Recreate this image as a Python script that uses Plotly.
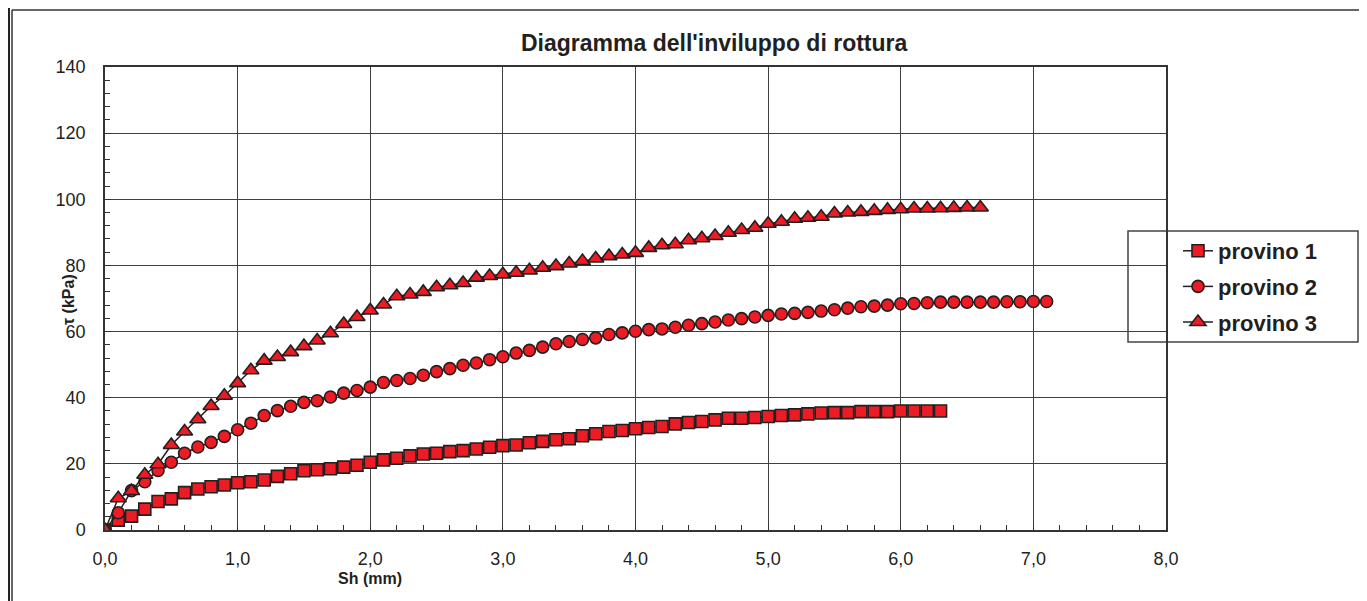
import plotly.graph_objects as go

# ---------------- data ----------------
sh_mm = [0.0, 0.1, 0.2, 0.3, 0.4, 0.5, 0.6, 0.7, 0.8, 0.9,
         1.0, 1.1, 1.2, 1.3, 1.4, 1.5, 1.6, 1.7, 1.8, 1.9,
         2.0, 2.1, 2.2, 2.3, 2.4, 2.5, 2.6, 2.7, 2.8, 2.9,
         3.0, 3.1, 3.2, 3.3, 3.4, 3.5, 3.6, 3.7, 3.8, 3.9,
         4.0, 4.1, 4.2, 4.3, 4.4, 4.5, 4.6, 4.7, 4.8, 4.9,
         5.0, 5.1, 5.2, 5.3, 5.4, 5.5, 5.6, 5.7, 5.8, 5.9,
         6.0, 6.1, 6.2, 6.3, 6.4, 6.5, 6.6, 6.7, 6.8, 6.9,
         7.0, 7.1]

tau_provino_1 = [0.0, 3.0, 4.2, 6.3, 8.6, 9.4, 11.3, 12.4, 13.1, 13.6,
                 14.3, 14.6, 15.1, 16.2, 17.0, 17.9, 18.2, 18.5, 19.0, 19.6,
                 20.5, 21.2, 21.7, 22.4, 23.0, 23.2, 23.7, 24.0, 24.5, 25.0,
                 25.5, 25.7, 26.4, 26.8, 27.3, 27.6, 28.5, 29.1, 29.8, 30.1,
                 30.6, 31.0, 31.3, 32.1, 32.5, 32.8, 33.3, 33.8, 33.8, 34.0,
                 34.3, 34.6, 34.8, 35.1, 35.4, 35.5, 35.5, 35.8, 35.8, 35.8,
                 36.0, 36.0, 36.0, 36.0]

tau_provino_2 = [0.0, 5.2, 11.9, 14.6, 18.0, 20.5, 23.2, 25.1, 26.5, 28.3,
                 30.3, 32.3, 34.6, 36.1, 37.4, 38.6, 39.1, 40.2, 41.4, 42.2,
                 43.2, 44.6, 45.2, 45.8, 46.8, 47.9, 48.8, 49.8, 50.5, 51.5,
                 52.4, 53.5, 54.3, 55.3, 56.3, 57.0, 57.6, 58.1, 59.1, 59.6,
                 60.1, 60.6, 60.8, 61.3, 61.9, 62.4, 62.9, 63.5, 63.9, 64.4,
                 64.9, 65.3, 65.5, 65.8, 66.2, 66.6, 67.1, 67.5, 67.7, 68.0,
                 68.4, 68.5, 68.7, 68.9, 68.9, 68.9, 68.9, 68.9, 69.0, 69.0,
                 69.1, 69.1]

tau_provino_3 = [0.0, 9.6, 11.8, 16.7, 19.9, 25.7, 29.8, 33.5, 37.5, 40.6,
                 44.4, 48.3, 51.2, 52.3, 53.8, 55.6, 57.3, 59.5, 62.3, 64.4,
                 66.4, 68.2, 70.7, 71.2, 72.0, 73.4, 74.0, 74.7, 76.3, 76.8,
                 77.3, 77.8, 78.5, 79.3, 79.8, 80.6, 81.3, 82.1, 82.8, 83.3,
                 83.8, 85.3, 86.1, 86.4, 87.6, 88.2, 88.9, 89.9, 90.7, 91.4,
                 92.6, 93.2, 94.1, 94.4, 94.7, 95.7, 96.0, 96.2, 96.5, 96.8,
                 97.0, 97.2, 97.2, 97.3, 97.4, 97.5, 97.5]

series_names = ["provino 1", "provino 2", "provino 3"]
x_tick_vals = [0, 1, 2, 3, 4, 5, 6, 7, 8]
x_tick_text = ["0,0", "1,0", "2,0", "3,0", "4,0", "5,0", "6,0", "7,0", "8,0"]
y_tick_vals = [0, 20, 40, 60, 80, 100, 120, 140]

title_text = "Diagramma dell'inviluppo di rottura"
x_title = "Sh (mm)"
y_title = "τ (kPa)"

# ---------------- styling ----------------
FONT = "Liberation Sans, Arial, Helvetica, sans-serif"
DARK = "#231F20"
RED = "#ED1C24"
W, H = 1367, 601
OFF = 8  # page body margin: screen = figure + 8
# plot area in screen pixels
SL, SR, ST, SB = 105, 1166, 67, 530
L, R, T, B = SL - OFF, SR - OFF, ST - OFF, SB - OFF


def px_x(p):  # screen px -> paper
    return (p - OFF - L) / (R - L)


def px_y(p):
    return (B - (p - OFF)) / (B - T)


symbols = ["square", "circle", "triangle-up"]
sizes = [12, 12, 14]
series = [tau_provino_1, tau_provino_2, tau_provino_3]

fig = go.Figure()
for name, sym, sz, tau in zip(series_names, symbols, sizes, series):
    fig.add_trace(go.Scatter(
        x=sh_mm[:len(tau)], y=tau, name=name, mode="lines+markers",
        legendgroup=name,
        line=dict(color=DARK, width=1.5),
        marker=dict(symbol=sym, size=sz, color=RED,
                    line=dict(color=DARK, width=1.6)),
    ))

axis_common = dict(
    showline=True, linecolor="#333333", linewidth=1.5, mirror=True,
    showgrid=True, gridcolor="#404040", gridwidth=1,
    zeroline=False, ticks="inside", ticklen=6, tickcolor="#333333",
    tickfont=dict(family=FONT, size=18, color=DARK),
)

fig.update_xaxes(
    range=[0, 8], tickvals=x_tick_vals, ticktext=x_tick_text,
    minor=dict(dtick=0.2, ticks="inside", ticklen=5, tickcolor="#333333", showgrid=False),
    ticklabelstandoff=12,
    **axis_common,
)
fig.update_yaxes(
    range=[0, 140], tickvals=y_tick_vals,
    minor=dict(dtick=4, ticks="inside", ticklen=5, tickcolor="#333333", showgrid=False),
    ticklabelstandoff=14,
    **axis_common,
)

annotations = [
    dict(text=f"<b>{title_text}</b>", x=px_x(714), y=px_y(43), xref="paper", yref="paper",
         showarrow=False, font=dict(family=FONT, size=23, color=DARK),
         xanchor="center", yanchor="middle"),
    dict(text=f"<b>{x_title}</b>", x=px_x(370), y=px_y(578), xref="paper", yref="paper",
         showarrow=False, font=dict(family=FONT, size=16, color=DARK),
         xanchor="center", yanchor="middle"),
    dict(text=f"<b>{y_title}</b>", x=px_x(68), y=px_y(300), xref="paper", yref="paper",
         showarrow=False, textangle=-90, font=dict(family=FONT, size=16, color=DARK),
         xanchor="center", yanchor="middle"),
]

shapes = [
    # outer thick left frame line
    dict(type="line", xref="paper", yref="paper", x0=px_x(9), x1=px_x(9),
         y0=px_y(0), y1=px_y(W), line=dict(color="#222222", width=2)),
    # chart-area border (left and top visible)
    dict(type="line", xref="paper", yref="paper", x0=px_x(12), x1=px_x(12),
         y0=px_y(10), y1=px_y(620), line=dict(color="#333333", width=1.5)),
    dict(type="line", xref="paper", yref="paper", x0=px_x(12), x1=px_x(1400),
         y0=px_y(10), y1=px_y(10), line=dict(color="#333333", width=1.5)),
    # legend box
    dict(type="rect", xref="paper", yref="paper", x0=px_x(1128), x1=px_x(1358),
         y0=px_y(342), y1=px_y(231), line=dict(color="#444444", width=1.5),
         fillcolor="white", layer="below"),
]

fig.update_layout(
    width=W, height=H,
    margin=dict(l=L, r=W - R, t=T, b=H - B, pad=0),
    paper_bgcolor="white", plot_bgcolor="white",
    font=dict(family=FONT, color=DARK),
    showlegend=True,
    legend=dict(
        x=px_x(1178), y=px_y(230), xanchor="left", yanchor="top",
        bgcolor="rgba(0,0,0,0)", borderwidth=0,
        font=dict(family=FONT, size=22, color=DARK, weight="bold"),
        tracegroupgap=4, itemsizing="trace",
    ),
    annotations=annotations,
    shapes=shapes,
)

fig.write_html("out.html")
